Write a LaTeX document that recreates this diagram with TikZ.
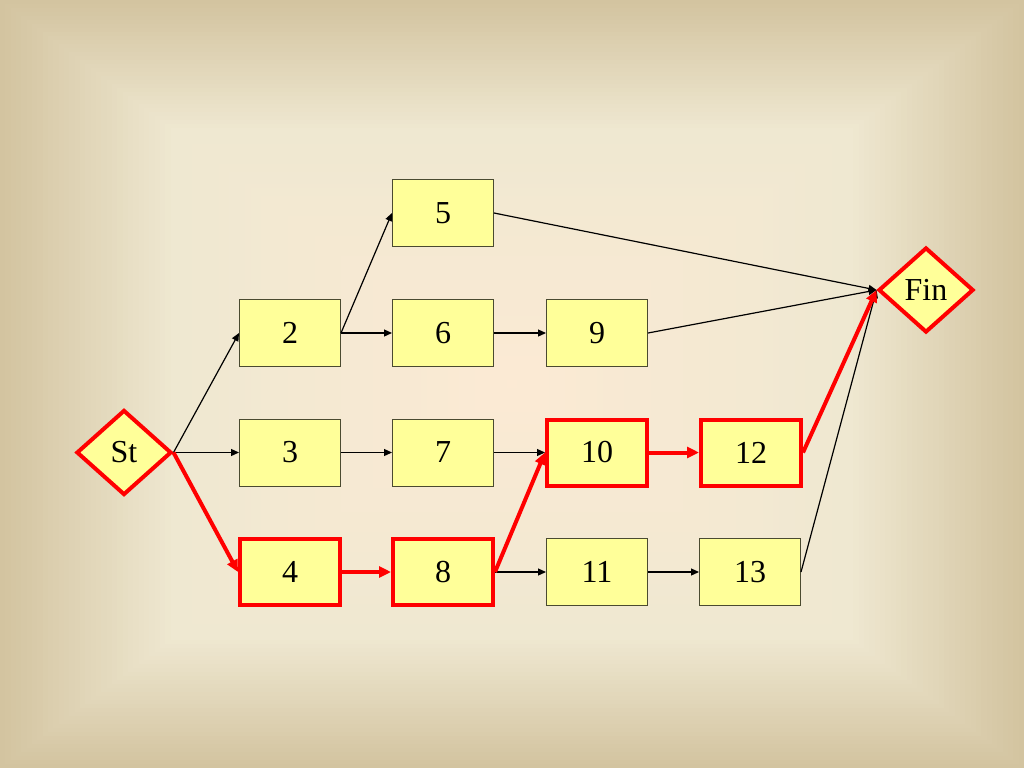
\documentclass[tikz,border=0pt]{standalone}
\usepackage{fontspec}
\setmainfont{Liberation Serif}
\usetikzlibrary{arrows.meta,shapes.geometric}
\definecolor{bgedge}{HTML}{D3C4A0}
\definecolor{bgmid}{HTML}{EFE8D1}
\definecolor{bgcen}{HTML}{FCEAD4}
\definecolor{boxfill}{HTML}{FFFF99}
\definecolor{boxline}{HTML}{4A4A30}
\definecolor{critred}{HTML}{FF0000}
\tikzset{
  act/.style={draw=boxline, fill=boxfill, line width=1pt, minimum width=101pt, minimum height=67pt, inner sep=0pt, font=\fontsize{32}{38}\selectfont},
  critact/.style={act, draw=critred, line width=4pt, minimum width=100pt, minimum height=66pt},
  milestone/.style={diamond, draw=critred, fill=boxfill, line width=4pt, minimum width=95pt, minimum height=85pt, inner sep=0pt, font=\fontsize{32}{38}\selectfont},
  link/.style={line width=1.2pt, -{Triangle[length=8pt,width=7pt]}},
  critlink/.style={draw=critred, line width=4pt, -{Triangle[length=12pt,width=11pt]}}
}
\begin{document}
\begin{tikzpicture}[x=1pt,y=-1pt]
\useasboundingbox (0,0) rectangle (1024,768);
% rectangular gradient background
\foreach \i in {0,...,95}{
  \pgfmathsetmacro\dx{\i*5.3333}
  \pgfmathsetmacro\dy{\i*4}
  \ifnum\i<32
    \pgfmathtruncatemacro\p{\i*3.125}
    \fill[bgmid!\p!bgedge] (\dx,\dy) rectangle (1024-\dx,768-\dy);
  \else
    \pgfmathtruncatemacro\p{(\i-32)*1.5625}
    \fill[bgcen!\p!bgmid] (\dx,\dy) rectangle (1024-\dx,768-\dy);
  \fi
}
% nodes
\node[milestone] (st) at (124,452.5) {St};
\node[milestone] (fin) at (926,290) {Fin};
\node[act] (n5) at (443,213) {5};
\node[act] (n2) at (290,333) {2};
\node[act] (n6) at (443,333) {6};
\node[act] (n9) at (597,333) {9};
\node[act] (n3) at (290,452.5) {3};
\node[act] (n7) at (443,452.5) {7};
\node[critact] (n10) at (597,452.5) {10};
\node[critact] (n12) at (751,452.5) {12};
\node[critact] (n4) at (290,572) {4};
\node[critact] (n8) at (443,572) {8};
\node[act] (n11) at (597,572) {11};
\node[act] (n13) at (750,572) {13};
% connectors
\draw[link] (st.east) -- (n2.west);
\draw[link] (st.east) -- (n3.west);
\draw[link] (n2.east) -- (n5.west);
\draw[link] (n2.east) -- (n6.west);
\draw[link] (n6.east) -- (n9.west);
\draw[link] (n3.east) -- (n7.west);
\draw[link] (n7.east) -- (n10.west);
\draw[link] (n8.east) -- (n11.west);
\draw[link] (n11.east) -- (n13.west);
\draw[link] (n5.east) -- (fin.west);
\draw[link] (n9.east) -- (fin.west);
\draw[link] (n13.east) -- (fin.west);
\draw[critlink] (st.east) -- (n4.west);
\draw[critlink] (n4.east) -- (n8.west);
\draw[critlink] (n8.east) -- (n10.west);
\draw[critlink] (n10.east) -- (n12.west);
\draw[critlink] (n12.east) -- (fin.west);
\end{tikzpicture}
\end{document}
